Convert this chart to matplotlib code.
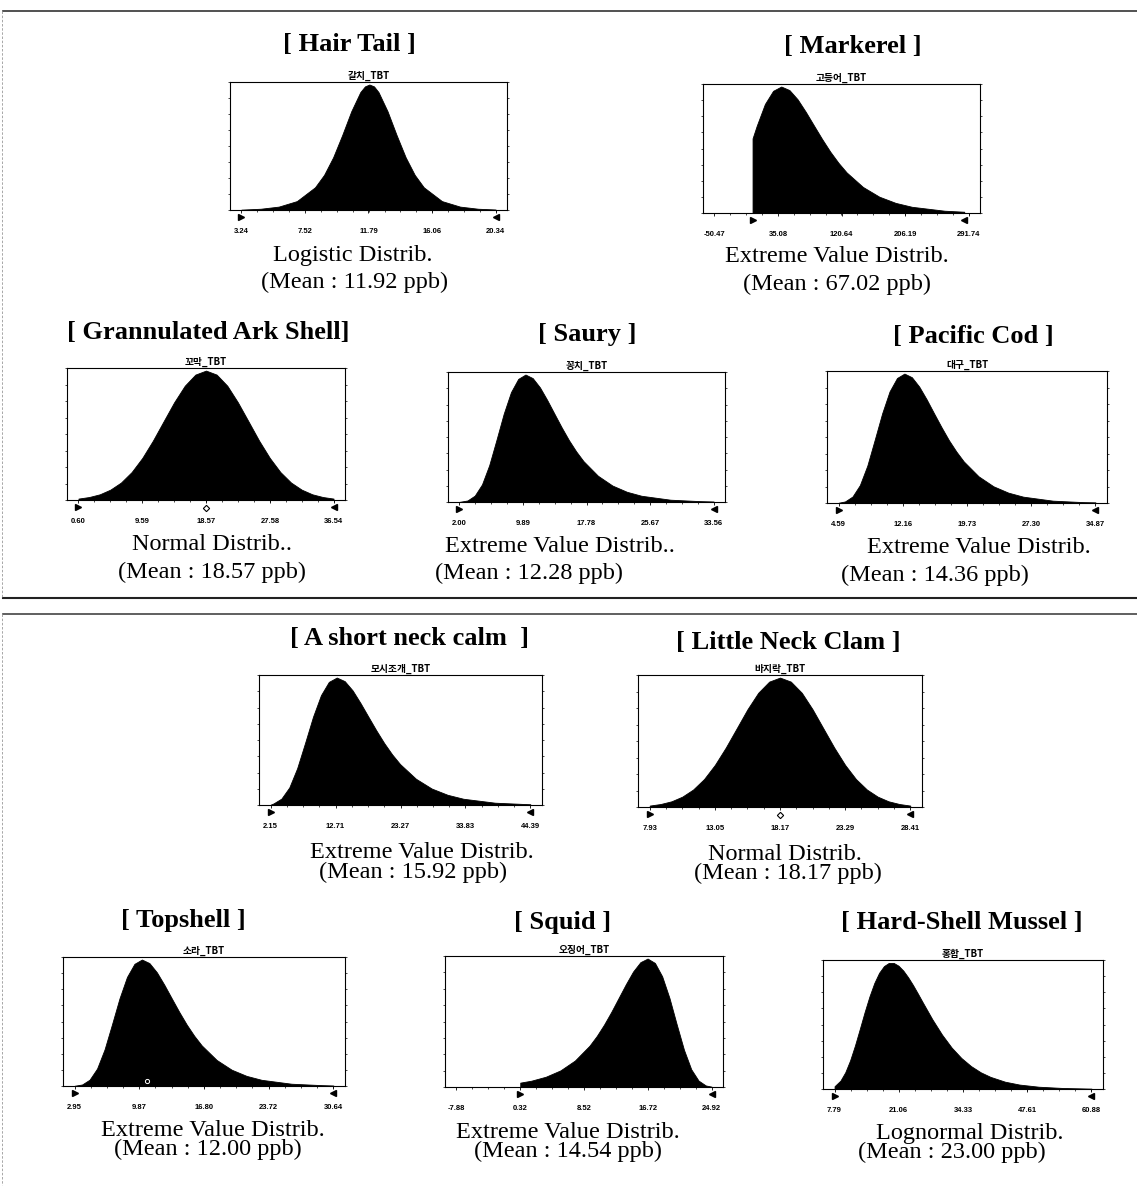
import matplotlib
matplotlib.use("Agg")
import matplotlib.pyplot as plt
import matplotlib.transforms as mtransforms
from matplotlib.lines import Line2D
from matplotlib.ticker import AutoMinorLocator

# ---- values ----
titles = ["[ Hair Tail ]", "[ Markerel ]", "[ Grannulated Ark Shell]", "[ Saury ]",
          "[ Pacific Cod ]", "[ A short neck calm  ]", "[ Little Neck Clam ]",
          "[ Topshell ]", "[ Squid ]", "[ Hard-Shell Mussel ]"]
korean = ["갈치_TBT", "고등어_TBT", "꼬막_TBT", "꽁치_TBT", "대구_TBT",
          "모시조개_TBT", "바지락_TBT", "소라_TBT", "오징어_TBT", "홍합_TBT"]
dist_names = ["Logistic Distrib.", "Extreme Value Distrib.", "Normal Distrib..",
              "Extreme Value Distrib..", "Extreme Value Distrib.", "Extreme Value Distrib.",
              "Normal Distrib.", "Extreme Value Distrib.", "Extreme Value Distrib.",
              "Lognormal Distrib."]
means = [11.92, 67.02, 18.57, 12.28, 14.36, 15.92, 18.17, 12.00, 14.54, 23.00]

hair_ticks = [3.24, 7.52, 11.79, 16.06, 20.34]
mack_ticks = [-50.47, 35.08, 120.64, 206.19, 291.74]
ark_ticks = [0.60, 9.59, 18.57, 27.58, 36.54]
saury_ticks = [2.00, 9.89, 17.78, 25.67, 33.56]
cod_ticks = [4.59, 12.16, 19.73, 27.30, 34.87]
clam_ticks = [2.15, 12.71, 23.27, 33.83, 44.39]
little_ticks = [7.93, 13.05, 18.17, 23.29, 28.41]
top_ticks = [2.95, 9.87, 16.80, 23.72, 30.64]
squid_ticks = [-7.88, 0.32, 8.52, 16.72, 24.92]
mussel_ticks = [7.79, 21.06, 34.33, 47.61, 60.88]

# curve heights relative to the peak
hair_x = [3.24, 4.53, 5.75, 6.97, 8.19, 8.80, 9.41, 10.02, 10.63, 11.24, 11.55, 11.85,
          12.16, 12.46, 13.07, 13.68, 14.29, 14.90, 15.51, 16.73, 17.95, 19.17, 20.34]
hair_y = [0.003, 0.010, 0.027, 0.071, 0.181, 0.280, 0.420, 0.597, 0.787, 0.940, 0.985, 1.0,
          0.985, 0.940, 0.787, 0.597, 0.420, 0.280, 0.181, 0.071, 0.027, 0.010, 0.004]

mack_x = [0.86, 0.86, 6.5, 17.5, 28.5, 39.5, 50.5, 61.5, 72.5, 83.5, 94.5, 105.5, 116.5,
          127.5, 149.5, 171.5, 193.5, 215.5, 259.5, 285.9]
mack_y = [0.0, 0.59, 0.69, 0.862, 0.966, 1.0, 0.972, 0.899, 0.80, 0.692, 0.585, 0.485, 0.397,
          0.321, 0.206, 0.129, 0.080, 0.049, 0.018, 0.010]

ark_x = [0.60, 2.10, 3.60, 5.09, 6.59, 8.09, 9.59, 11.08, 12.58, 14.08, 15.58, 17.07, 18.57,
         20.07, 21.57, 23.06, 24.56, 26.06, 27.56, 29.05, 30.55, 32.05, 33.55, 35.04, 36.54]
ark_y = [0.011, 0.023, 0.044, 0.080, 0.135, 0.216, 0.325, 0.458, 0.607, 0.755, 0.883, 0.969, 1.0,
         0.969, 0.883, 0.755, 0.607, 0.458, 0.325, 0.216, 0.135, 0.080, 0.044, 0.023, 0.011]

saury_x = [2.00, 3.0, 3.9, 4.8, 5.7, 6.6, 7.5, 8.4, 9.3, 10.2, 11.1, 12.0, 12.9, 13.8, 14.7,
           15.6, 16.5, 17.4, 19.2, 21.0, 22.8, 24.6, 28.2, 31.8, 33.56]
saury_y = [0.001, 0.012, 0.050, 0.138, 0.289, 0.488, 0.693, 0.862, 0.966, 1.0, 0.972, 0.899, 0.80,
           0.692, 0.585, 0.485, 0.397, 0.321, 0.206, 0.129, 0.080, 0.049, 0.018, 0.007, 0.004]

cod_x = [4.59, 5.35, 6.23, 7.10, 7.98, 8.85, 9.73, 10.60, 11.48, 12.35, 13.23, 14.10, 14.98,
         15.85, 16.73, 17.60, 18.48, 19.35, 21.10, 22.85, 24.60, 26.35, 29.85, 33.35, 34.87]
cod_y = [0.002, 0.012, 0.050, 0.138, 0.289, 0.488, 0.693, 0.862, 0.966, 1.0, 0.972, 0.899, 0.80,
         0.692, 0.585, 0.485, 0.397, 0.321, 0.206, 0.129, 0.080, 0.049, 0.018, 0.007, 0.005]

clam_x = [2.15, 2.60, 3.89, 5.18, 6.46, 7.75, 9.04, 10.33, 11.61, 12.90, 14.19, 15.48, 16.76,
          18.05, 19.34, 20.63, 21.91, 23.20, 25.78, 28.35, 30.93, 33.50, 38.65, 43.80, 44.39]
clam_y = [0.003, 0.012, 0.050, 0.138, 0.289, 0.488, 0.693, 0.862, 0.966, 1.0, 0.972, 0.899, 0.80,
          0.692, 0.585, 0.485, 0.397, 0.321, 0.206, 0.129, 0.080, 0.049, 0.018, 0.007, 0.006]

little_x = [7.93, 8.78, 9.64, 10.49, 11.34, 12.20, 13.05, 13.90, 14.76, 15.61, 16.46, 17.32, 18.17,
            19.02, 19.88, 20.73, 21.58, 22.44, 23.29, 24.14, 25.00, 25.85, 26.70, 27.56, 28.41]
little_y = [0.011, 0.023, 0.044, 0.080, 0.135, 0.216, 0.325, 0.458, 0.607, 0.755, 0.883, 0.969,
            1.0, 0.969, 0.883, 0.755, 0.607, 0.458, 0.325, 0.216, 0.135, 0.080, 0.044, 0.023,
            0.011]

top_x = [2.95, 3.75, 4.55, 5.35, 6.15, 6.95, 7.75, 8.55, 9.35, 10.15, 10.95, 11.75, 12.55,
         13.35, 14.15, 14.95, 15.75, 16.55, 18.15, 19.75, 21.35, 22.95, 26.15, 29.35, 30.64]
top_y = [0.002, 0.012, 0.050, 0.138, 0.289, 0.488, 0.693, 0.862, 0.966, 1.0, 0.972, 0.899, 0.80,
         0.692, 0.585, 0.485, 0.397, 0.321, 0.206, 0.129, 0.080, 0.049, 0.018, 0.007, 0.004]

squid_x = [0.32, 0.32, 1.74, 3.61, 5.48, 7.35, 9.22, 10.16, 11.09, 12.03, 12.96, 13.90, 14.83,
           15.77, 16.70, 17.64, 18.57, 19.51, 20.44, 21.38, 22.31, 23.25, 24.18, 24.92]
squid_y = [0.0, 0.034, 0.049, 0.080, 0.129, 0.206, 0.321, 0.397, 0.485, 0.585, 0.692, 0.80,
           0.899, 0.972, 1.0, 0.966, 0.862, 0.693, 0.488, 0.289, 0.138, 0.050, 0.012, 0.003]

mussel_x = [7.79, 9, 10, 11, 12, 13, 14, 15, 16, 17, 18, 19, 20, 21, 22, 23, 24, 25, 26, 28,
            30, 32, 34, 36, 38, 40, 43, 46, 50, 55, 60.88]
mussel_y = [0.022, 0.066, 0.132, 0.226, 0.343, 0.474, 0.608, 0.732, 0.838, 0.919, 0.972, 0.997,
            0.997, 0.975, 0.936, 0.883, 0.822, 0.755, 0.686, 0.551, 0.430, 0.327, 0.245, 0.181,
            0.132, 0.096, 0.058, 0.035, 0.018, 0.008, 0.003]

# mean marker under the axis for the two normal fits
normal_mean = {2: 18.57, 6: 18.17}

curves = [(hair_x, hair_y, hair_ticks), (mack_x, mack_y, mack_ticks), (ark_x, ark_y, ark_ticks),
          (saury_x, saury_y, saury_ticks), (cod_x, cod_y, cod_ticks), (clam_x, clam_y, clam_ticks),
          (little_x, little_y, little_ticks), (top_x, top_y, top_ticks),
          (squid_x, squid_y, squid_ticks), (mussel_x, mussel_y, mussel_ticks)]

# ---- layout, in pixels of the 1137x1190 picture ----
W, H = 1137, 1190
axes_px = [(230, 82, 507, 210), (703, 84, 980, 213),
           (67, 368, 345, 500), (448, 372, 725, 502), (827, 371, 1107, 503),
           (259, 675, 542, 805), (638, 675, 922, 807),
           (63, 957, 345, 1086), (445, 956, 723, 1087), (823, 960, 1103, 1089)]
title_px = [(349, 44), (853, 47), (208, 333), (587, 335), (973, 337),
            (410, 638), (788, 642), (183, 920), (563, 922), (962, 923)]
cap1_px = [(353, 255), (837, 256), (212, 545), (560, 547), (979, 548),
           (422, 852), (785, 854), (213, 1130), (568, 1132), (970, 1133)]
cap2_px = [(355, 282), (837, 284), (212, 572), (529, 573), (935, 575),
           (413, 872), (788, 873), (208, 1149), (568, 1151), (952, 1152)]

fig = plt.figure(figsize=(W / 100, H / 100), dpi=100)
fig.patch.set_facecolor("white")

serif = "Liberation Serif"

for i, (xs, ys, ticks) in enumerate(curves):
    x0, y0, x1, y1 = axes_px[i]
    ax = fig.add_axes([x0 / W, 1 - y1 / H, (x1 - x0) / W, (y1 - y0) / H])
    ax.fill_between(xs, ys, 0, color="black", linewidth=0.6)
    span = ticks[-1] - ticks[0]
    ax.set_xlim(ticks[0] - 0.045 * span, ticks[-1] + 0.045 * span)
    ax.set_ylim(0, 1.02)
    ax.set_xticks(ticks)
    ax.set_xticklabels([f"{t:.2f}" for t in ticks], fontsize=5.5, fontweight="bold",
                       family="Liberation Sans")
    ax.xaxis.set_minor_locator(AutoMinorLocator(4))
    ax.set_yticks([j / 8 * 1.02 for j in range(9)])
    ax.tick_params(axis="x", which="major", length=2, width=0.6, pad=11, direction="out")
    ax.tick_params(axis="x", which="minor", length=1.2, width=0.5, direction="out")
    ax.tick_params(axis="y", which="both", length=1.5, width=0.5, direction="out",
                   left=True, right=True, labelleft=False)
    for s in ax.spines.values():
        s.set_linewidth(0.8)
    ax.set_title(korean[i], fontsize=7, fontweight="bold", pad=2,
                 family=["Noto Sans CJK KR", "DejaVu Sans"])

    # range grabbers under the axis
    trans = mtransforms.blended_transform_factory(ax.transData, ax.transAxes)
    ax.plot([xs[0]], [-0.055], marker=">", ms=4.5, color="black", transform=trans, clip_on=False)
    ax.plot([xs[-1]], [-0.055], marker="<", ms=4.5, color="black", transform=trans, clip_on=False)
    if i in normal_mean:
        ax.plot([normal_mean[i]], [-0.06], marker="D", ms=3.2, mfc="white", mec="black",
                mew=0.8, transform=trans, clip_on=False)
    if i == 7:
        ax.plot([10.7], [0.04], marker="o", ms=3, mfc="none", mec="white", mew=0.7)

    tx, ty = title_px[i]
    fig.text(tx / W, 1 - ty / H, titles[i], ha="center", va="center", fontsize=19,
             fontweight="bold", family=serif)
    cx, cy = cap1_px[i]
    fig.text(cx / W, 1 - cy / H, dist_names[i], ha="center", va="center", fontsize=17.5,
             family=serif)
    cx, cy = cap2_px[i]
    fig.text(cx / W, 1 - cy / H, f"(Mean : {means[i]:.2f} ppb)", ha="center", va="center",
             fontsize=17.5, family=serif)

# section frames
def hline(y, x0, x1, lw, c):
    fig.add_artist(Line2D([x0 / W, x1 / W], [1 - y / H, 1 - y / H], lw=lw, color=c))

def vline(x, y0, y1, lw, c):
    fig.add_artist(Line2D([x / W, x / W], [1 - y0 / H, 1 - y1 / H], lw=lw, color=c,
                          ls=(0, (3, 2))))

hline(11, 3, W, 1.2, "#333333")
hline(598, 3, W, 1.5, "#222222")
hline(614, 3, W, 1.2, "#444444")
vline(2, 11, 598, 0.6, "#999999")
vline(2, 614, 1185, 0.6, "#999999")

fig.savefig("out.png", dpi=100)
